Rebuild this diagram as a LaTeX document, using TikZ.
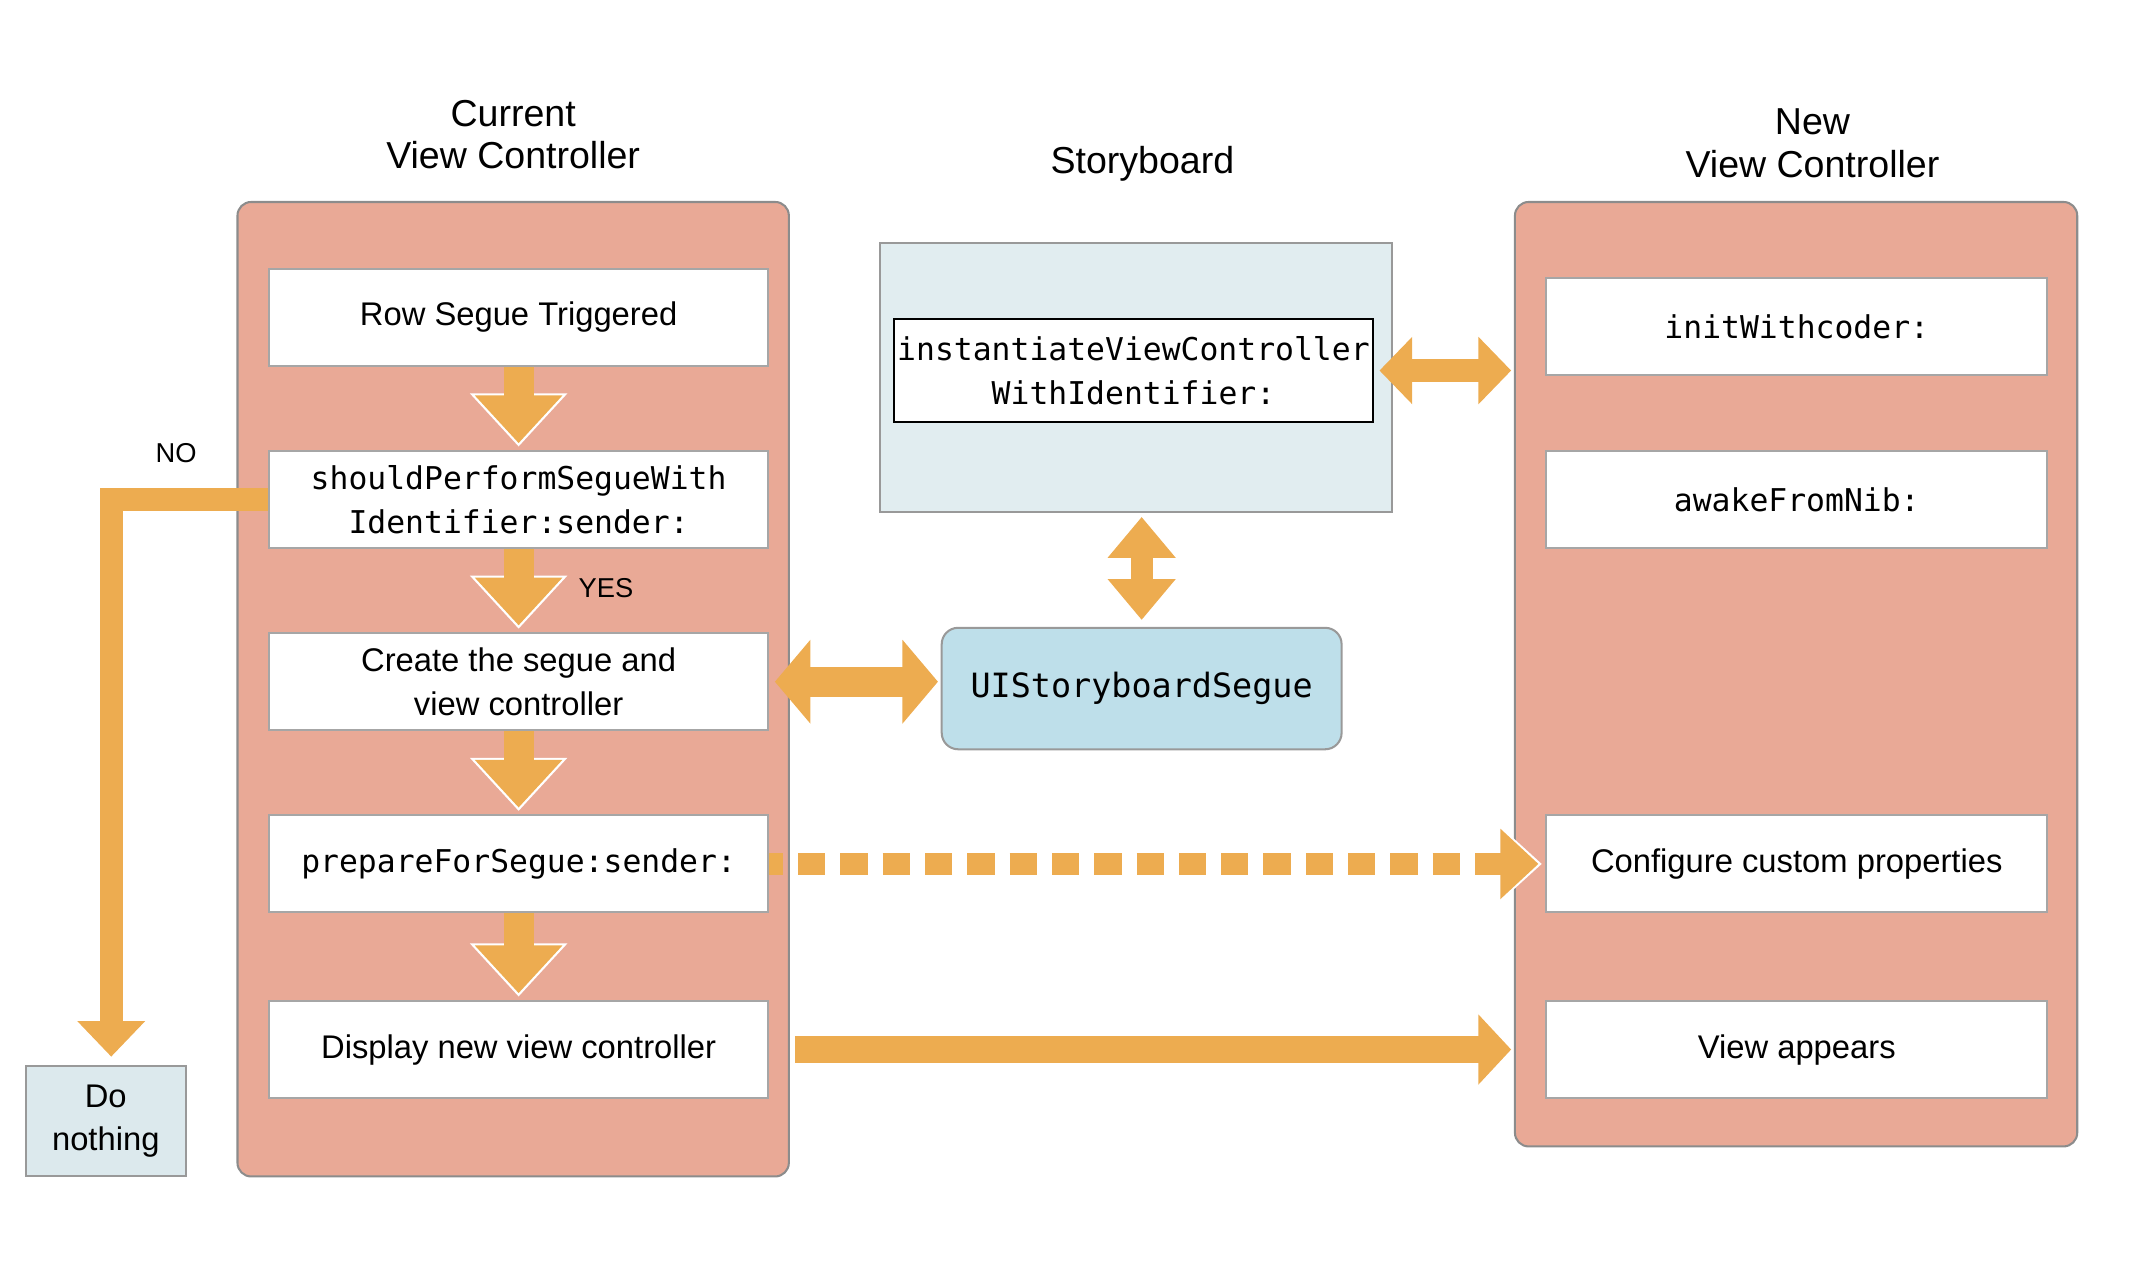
\documentclass[tikz,border=0pt]{standalone}
\usepackage{fontspec}
\setmainfont{Liberation Sans}
\newfontfamily\monof{DejaVu Sans Mono}
\usetikzlibrary{arrows.meta}
\definecolor{panelfill}{HTML}{E9A996}
\definecolor{panelline}{HTML}{8C8C8C}
\definecolor{arr}{HTML}{EDAC50}
\definecolor{sbfill}{HTML}{E1EDF0}
\definecolor{segfill}{HTML}{BEDFEA}
\definecolor{dnfill}{HTML}{DCE9ED}
\begin{document}
\begin{tikzpicture}[x=1pt,y=-1pt,
  panel/.style={draw=panelline, line width=1.5pt, fill=panelfill, rounded corners=10pt, inner sep=0pt},
  stepbox/.style={draw=gray!70, line width=1.5pt, fill=white, inner sep=0pt, align=center,
    minimum width=366pt, minimum height=71pt, font=\fontsize{24}{32}\selectfont},
  monobox/.style={stepbox, font=\monof\fontsize{23}{32}\selectfont},
  title/.style={align=center, font=\fontsize{27.5}{31}\selectfont},
  lbl/.style={font=\fontsize{20}{24}\selectfont},
  downhalo/.style={draw=white, line width=22pt, shorten >=2.5pt,
    -{Triangle[width=69pt,length=39pt]}},
  downarr/.style={draw=arr, line width=22pt, shorten >=5pt,
    -{Triangle[width=62pt,length=35pt]}},
  dblarr/.style={draw=arr, line width=22pt,
    {Triangle[width=60pt,length=26pt]}-{Triangle[width=60pt,length=26pt]}},
]
\useasboundingbox (0,0) rectangle (1568,933);

% titles
\node[title] (t1) at (376,98.5) {Current\\View Controller};
\node[title] (t2) at (837,120) {Storyboard};
\node[title] (t3) at (1328,105) {New\\View Controller};

% panels
\node[panel, minimum width=404pt, minimum height=714pt] (lp) at (376,505) {};
\node[panel, minimum width=412pt, minimum height=692pt] (rp) at (1316,494) {};

% left column
\node[stepbox] (rst) at (380,232.5) {\raisebox{-2pt}{Row Segue Triggered}};
\node[monobox] (spw) at (380,366) {shouldPerformSegueWith\\Identifier:sender:};
\node[stepbox] (csv) at (380,499.5) {Create the segue and\\view controller};
\node[monobox] (pfs) at (380,633) {prepareForSegue:sender:};
\node[stepbox] (dnv) at (380,769) {\raisebox{-2pt}{Display new view controller}};

% right column
\node[monobox, minimum width=367pt] (iwc) at (1316.5,239.5) {initWithcoder:};
\node[monobox, minimum width=367pt] (afn) at (1316.5,366) {awakeFromNib:};
\node[stepbox, minimum width=367pt] (ccp) at (1316.5,633) {\raisebox{-2pt}{Configure custom properties}};
\node[stepbox, minimum width=367pt] (vap) at (1316.5,769) {\raisebox{-2pt}{View appears}};

% storyboard
\node[draw=gray!80, line width=1.5pt, fill=sbfill, minimum width=375pt, minimum height=197pt, inner sep=0pt] (sb) at (832.5,276.5) {};
\node[draw=black, line width=1.5pt, fill=white, minimum width=351pt, minimum height=75pt, inner sep=0pt,
  align=center, font=\monof\fontsize{23}{32}\selectfont] (ivc) at (830.5,271.5) {instantiateViewController\\WithIdentifier:};
\node[draw=gray!80, line width=1.5pt, fill=segfill, rounded corners=12pt, minimum width=293pt, minimum height=89pt,
  inner sep=0pt, font=\monof\fontsize{24.5}{30}\selectfont] (seg) at (836.5,504.5) {UIStoryboardSegue};

% do nothing
\node[draw=gray!80, line width=1.5pt, fill=dnfill, minimum width=117pt, minimum height=81pt, inner sep=0pt,
  align=center, font=\fontsize{24}{32}\selectfont] (dn) at (77.5,821.5) {Do\\nothing};

% labels
\node[lbl] (no) at (129,332) {NO};
\node[lbl] (yes) at (444,431) {YES};

% flow arrows
\draw[downhalo] (rst.south) -- (spw.north);
\draw[downarr] (rst.south) -- (spw.north);
\draw[downhalo] (spw.south) -- (csv.north);
\draw[downarr] (spw.south) -- (csv.north);
\draw[downhalo] (csv.south) -- (pfs.north);
\draw[downarr] (csv.south) -- (pfs.north);
\draw[downhalo] (pfs.south) -- (dnv.north);
\draw[downarr] (pfs.south) -- (dnv.north);

% NO branch
\draw[draw=arr, line width=17pt, line join=miter, shorten >=6pt,
  -{Triangle[width=48pt,length=26pt]}] (spw.west) -| ([xshift=4pt]dn.north);

% double arrows
\draw[dblarr, shorten <=4pt, shorten >=2pt] (csv.east) -- (csv.east -| seg.west);
\draw[draw=arr, line width=17pt, shorten <=4pt, shorten >=2pt,
  {Triangle[width=48pt,length=24pt]}-{Triangle[width=48pt,length=24pt]}] (ivc.east) -- (ivc.east -| rp.west);
\draw[draw=arr, line width=16pt, shorten <=3pt, shorten >=5pt,
  {Triangle[width=48pt,length=30pt]}-{Triangle[width=48pt,length=30pt]}] (seg.north |- sb.south) -- (seg.north);

% dashed arrow
\draw[draw=white, line width=16pt, shorten >=2.5pt,
  -{Triangle[width=56pt,length=32pt]}] ([xshift=-60pt]ccp.west) -- (ccp.west);
\draw[draw=arr, line width=16pt, dash pattern=on 20pt off 11pt, dash phase=10pt, shorten >=5pt,
  -{Triangle[width=50pt,length=28pt]}] (pfs.east) -- (ccp.west);

% solid arrow
\draw[draw=arr, line width=20pt, shorten <=19pt, shorten >=25pt,
  -{Triangle[width=50pt,length=24pt]}] (dnv.east) -- (vap.west);
\end{tikzpicture}
\end{document}
